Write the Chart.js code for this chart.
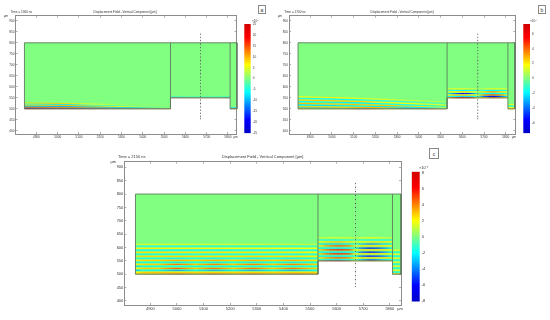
<!DOCTYPE html>
<html><head><meta charset="utf-8">
<script src="https://cdn.jsdelivr.net/npm/chart.js@4"></script>
<style>
html,body{margin:0;padding:0;background:#fff;width:550px;height:320px;overflow:hidden}
#wrap{position:relative;width:550px;height:320px;filter:blur(.4px)}
canvas{position:absolute;display:block}
.tag{position:absolute;box-sizing:border-box;border:1px solid #888;font:5px "Liberation Sans",sans-serif;color:#333;display:flex;align-items:center;justify-content:center;background:#fff}
</style></head><body><div id="wrap"></div>
<script>
// ----- Text -----
const chartTitle = "Displacement Field - Vertical Component [µm]";
const panelLetters = ["a", "b", "c"];
const timeLabels = ["Time = 1360 ns", "Time = 1700 ns", "Time = 2150 ns"];
const exponentLabels = ["×10⁻⁷", "×10⁻⁷", "×10⁻⁴"];

// ----- Axis ticks -----
const xTicks = [4900, 5000, 5100, 5200, 5300, 5400, 5500, 5600, 5700, 5800];
const yTicks = [400, 450, 500, 550, 600, 650, 700, 750, 800, 850, 900];
const aBarTicks = [-25, -20, -15, -10, -5, 0, 5, 10, 15, 20, 25];
const bBarTicks = [-6, -4, -2, 0, 2, 4, 6];
const cBarTicks = [-8, -6, -4, -2, 0, 2, 4, 6, 8];

// ----- Device geometry (µm) -----
const domainX = [4844, 4844, 5842, 5842, 5810, 5810, 5530, 5530, 4844];
const domainY = [500, 800, 800, 500, 500, 550, 550, 500, 500];
const wall1X = [5530, 5530];
const wall1Y = [550, 800];
const wall2X = [5810, 5810];
const wall2Y = [550, 800];
const probeX = 5671;
const probeY = [840, 825, 810, 795, 780, 765, 750, 735, 720, 705, 690, 675, 660, 645, 630, 615, 600, 585, 570, 555, 540, 525, 510, 495, 480, 465, 455];

// ----- Panel a, field bands -----
const aBlock1X = [4844, 5000, 5150, 5300, 5530];
const aBlock1Y = [
  [527, 525, 522, 519, 515],
  [523, 521, 518, 515, 511],
  [518, 516, 514, 511, 507],
  [513, 511, 509, 507, 505],
  [508, 507, 506, 505, 504],
  [504, 504, 503.5, 503, 503],
  [501, 501, 501, 501, 501]
];
const aBlock1V = [
  [8, 9, 6, 2, 0.5],
  [-6, -8, -6, -3, -1],
  [9, 10, 9, 6, 2],
  [-11, -11, -10, -9, -5],
  [14, 12, 11, 10, 10],
  [-20, -17, -14, -12, -12],
  [18, 16, 14, 10, 12]
];
const aBlock2X = [5530, 5600, 5670, 5740, 5810];
const aBlock2Y = [[554, 554, 554, 554, 554], [551, 551, 551, 551, 551]];
const aBlock2V = [[-6, -5, -5, -5, -6], [15, 14, 13, 12, 13]];
const aBlock3X = [5810, 5842];
const aBlock3Y = [[505, 505], [501, 501]];
const aBlock3V = [[-8, -8], [14, 14]];

// ----- Panel b, field bands -----
const bBlock1X = [4844, 4950, 5050, 5150, 5250, 5350, 5450, 5530];
const bBlock1Y = [
  [555, 553, 550, 547, 543, 539, 535, 531],
  [548, 546, 543, 540, 536, 532, 528, 524],
  [540, 538, 536, 533, 529, 525, 521, 517],
  [533, 531, 529, 526, 522, 518, 514, 511],
  [525, 523, 521, 519, 516, 513, 510, 508],
  [518, 516, 514, 512, 510, 508, 506, 505],
  [510, 509, 508, 507, 506, 505, 504, 504],
  [505, 505, 504, 504, 504, 503, 503, 502],
  [501, 501, 501, 501, 501, 501, 501, 501]
];
const bBlock1V = [
  [1.8, 2, 2, 1.5, 1.2, 1, 0.8, 0.5],
  [-1.5, -1.7, -1.8, -1.5, -1.2, -1, -0.8, -0.6],
  [2.5, 2.6, 2.6, 2.4, 2, 1.8, 1.4, 1],
  [-2, -2, -2.1, -2, -1.8, -1.6, -1.4, -1],
  [2.8, 2.8, 2.7, 2.7, 2.6, 2.4, 2.1, 1.6],
  [-2.2, -2.3, -2.2, -2, -2.3, -2.4, -2, -1.8],
  [2.6, 2.4, 2.6, 3, 2.8, 2.2, 2.8, 2.4],
  [-2.6, -3.4, -2.6, -2, -3, -4, -2.6, -2],
  [2.5, 0.5, 2.5, 4.5, 2, 0.5, 4, 3]
];
const bBlock2X = [5530, 5570, 5610, 5650, 5671, 5700, 5740, 5780, 5810];
const bBlock2Y = [591, 584, 577, 570, 563, 556, 551];
const bBlock2V = [
  [1, 1.5, 1.5, 1, 0.5, 1, 1.5, 1.5, 1],
  [-1, -1.6, -2, -1.5, -0.6, -1.5, -2, -1.6, -1],
  [1.4, 2, 2.4, 1.6, 0.8, 2.4, 3.6, 2.4, 1.4],
  [-1.4, -4, -5.5, -3.6, -0.8, -1.6, -2, -1.6, -1.4],
  [1.8, 3, 3, 2.4, 1, 4, 5.5, 4, 1.8],
  [-1.5, -2, -2.5, -2, -1, -4, -6, -4, -1.5],
  [2.5, 5, 6, 4.6, 1.5, 2.5, 4, 3, 2]
];
const bBlock3X = [5810, 5842];
const bBlock3Y = [520, 512, 505, 501];
const bBlock3V = [[1.4, 1.4], [-1.4, -1.4], [1.8, 1.8], [2.4, 2.4]];

// ----- Panel c, field bands -----
const cBlock1X = [4844, 4870, 4930, 5000, 5070, 5140, 5210, 5285, 5360, 5435, 5530];
const cBlock1Y = [612, 605, 597, 590, 582, 575, 567, 560, 552, 545, 537, 530, 522, 515, 507, 502];
const cBlock1V = [
  [1.4, 1.5, 1.5, 1.5, 1.4, 1.4, 1.4, 1.3, 1.2, 1.2, 1],
  [-1.3, -1.5, -1.5, -1.5, -1.4, -1.4, -1.3, -1.3, -1.2, -1.2, -1],
  [2.2, 2.3, 2.3, 2.2, 2.2, 2.2, 2.1, 2, 2, 2, 1.8],
  [-1.8, -2, -2, -2, -1.9, -1.9, -1.9, -1.8, -1.8, -1.8, -1.5],
  [2.5, 2.6, 2.6, 2.5, 2.5, 2.5, 2.4, 2.5, 2.4, 2.4, 2],
  [-2, -2.2, -2.1, -2.1, -2, -2.1, -2, -2, -2, -2.1, -1.8],
  [2.6, 2.7, 2.7, 2.7, 2.7, 2.6, 2.6, 2.7, 2.6, 2.6, 2.2],
  [-2, -2.2, -2.2, -2.4, -2.1, -2.4, -2.1, -2.4, -2.1, -2.4, -1.9],
  [2.4, 2.7, 2.8, 3.4, 2.8, 3.4, 2.8, 3.4, 2.8, 3.4, 2.4],
  [-2.4, -2.2, -2.2, -2.6, -2.2, -2.6, -2.2, -2.6, -2.2, -2.6, -2],
  [2.2, 2.7, 2.8, 4.4, 2.9, 4.2, 2.9, 4.2, 2.9, 4.2, 2.6],
  [-3, -2.3, -2.3, -2.2, -2.3, -2.4, -2.3, -2.4, -2.3, -2.4, -2],
  [2, 2.8, 2.9, 4.6, 2.9, 4.4, 2.9, 4.4, 2.9, 4.4, 2.6],
  [-3.4, -2.3, -2.4, -4, -2.3, -3.8, -2.4, -3.8, -2.4, -3.8, -2],
  [2, 2.8, 3, 2.8, 2.8, 2.8, 2.8, 2.8, 2.8, 2.8, 2.8],
  [3, 3, 3.2, 4, 3.2, 4, 3.2, 4, 3.2, 4, 3.4]
];
const cBlock2X = [5530, 5570, 5610, 5650, 5671, 5690, 5730, 5770, 5810];
const cBlock2Y = [636, 628, 621, 613, 606, 598, 591, 583, 576, 568, 561, 554, 551];
const cBlock2V = [
  [1, 1.5, 1.5, 1.5, 1, 1.5, 2, 1.5, 1],
  [-1.5, -2, -2, -1.5, -1, -1.5, -2, -2, -1.5],
  [2, 2.6, 3, 2.4, 1.5, 2, 2.5, 2.5, 2],
  [-2, -3, -3, -2.5, -1.5, -3, -4.5, -3, -2],
  [2, 4, 5, 4, 1.5, 2.5, 2.5, 2.5, 2],
  [-2, -2.4, -2.6, -2.2, -1.5, -4.5, -6, -4.5, -2],
  [2.5, 5, 6, 5, 2, 2.5, 2.5, 2.5, 2],
  [-2, -2.4, -2.6, -2.2, -1.5, -4.5, -6.2, -4.5, -2],
  [2.5, 5, 6, 5, 2, 2.5, 2.5, 2.5, 2],
  [-2, -2.4, -2.6, -2.2, -1.5, -4.5, -6, -4.5, -2],
  [2.5, 4, 5, 4, 2, 2.6, 2.6, 2.6, 2.5],
  [-1.5, -2.4, -2.6, -2, -1, -3, -5, -3, -2],
  [4, 5, 6, 4, 2, 3, 3.4, 3, 2.5]
];
const cBlock3X = [5810, 5842];
const cBlock3Y = [590, 583, 575, 568, 560, 553, 545, 538, 530, 523, 515, 508, 502];
const cBlock3V = [
  [1.6, 1.6], [-1.6, -1.6], [2, 2], [-1.8, -1.8], [2.2, 2.2], [-1.8, -1.8], [2.2, 2.2],
  [-1.8, -1.8], [2.2, 2.2], [-1.8, -1.8], [2.2, 2.2], [-1.8, -1.8], [3, 3]
];

// ----- Colour scale -----
const fieldStops = [[0, [0, 0, 200]], [0.125, [0, 0, 255]], [0.375, [0, 255, 255]], [0.625, [255, 255, 0]], [0.875, [255, 0, 0]], [1, [208, 0, 0]]];
function fieldColor(v, range) {
  const t = Math.max(0, Math.min(1, (v + range) / (2 * range)));
  for (let i = 1; i < fieldStops.length; i++) {
    const [t1, c1] = fieldStops[i], [t0, c0] = fieldStops[i - 1];
    if (t <= t1) {
      const k = (t - t0) / (t1 - t0);
      return `rgb(${c0.map((c, j) => Math.round(c + (c1[j] - c) * k)).join(",")})`;
    }
  }
  return "rgb(208,0,0)";
}

const panels = [
  { range: 25.1, barTicks: aBarTicks, canvas: [0, 0, 241, 148], area: [15.5, 236.5, 15.7, 134], xLim: [4802, 5840], yLim: [386, 923], font: 3.1, stripeW: 0.9,
    bands: [[aBlock1X, aBlock1Y, aBlock1V], [aBlock2X, aBlock2Y, aBlock2V], [aBlock3X, aBlock3Y, aBlock3V]],
    time: [10.7, 12], titleX: 125, yUnit: [6, 16], xUnit: [235.7, 137.3], bar: [244.3, 250.7, 24, 133.3], exp: [252, 21.5], tag: [258, 5, 8, 9], tagI: 0 },
  { range: 7.31, barTicks: bBarTicks, canvas: [275, 0, 245, 148], area: [14, 240.3, 15.7, 134], xLim: [4802.3, 5844], yLim: [386, 923], font: 3.1, stripeW: 1.1,
    bands: [[bBlock1X, bBlock1Y, bBlock1V], [bBlock2X, bBlock2Y, bBlock2V], [bBlock3X, bBlock3Y, bBlock3V]],
    time: [9.3, 12], titleX: 127, yUnit: [5, 16], xUnit: [239, 137.3], bar: [523.3, 530, 24, 133.3], exp: [530, 21.5], tag: [538, 5, 8, 9], tagI: 1 },
  { range: 8.14, barTicks: cBarTicks, canvas: [110, 145, 295, 175], area: [14.3, 291.7, 16.7, 160], xLim: [4802, 5842], yLim: [385, 921], font: 4, stripeW: 1.15,
    bands: [[cBlock1X, cBlock1Y, cBlock1V], [cBlock2X, cBlock2Y, cBlock2V], [cBlock3X, cBlock3Y, cBlock3V]],
    time: [8, 11.7], titleX: 152.7, yUnit: [3.3, 16.7], xUnit: [290, 164], bar: [411.7, 419.7, 171.7, 303], exp: [419, 168], tag: [429, 148, 10, 11], tagI: 2 }
];

const wrap = document.getElementById("wrap");
function addCanvas(x, y, w, h) {
  const c = document.createElement("canvas");
  c.width = w; c.height = h;
  c.style.cssText = `left:${x}px;top:${y}px;width:${w}px;height:${h}px`;
  wrap.appendChild(c);
  return c;
}
const GRAY = "#8c8c8c", FONT = "Liberation Sans", WALL = "#5f7a5f";

function bandDatasets(p) {
  const out = [];
  p.bands.forEach(([xs, ys, vs]) => {
    ys.forEach((row, r) => {
      const vals = vs[r];
      const data = xs.map((x, i) => ({ x, y: Array.isArray(row) ? row[i] : row }));
      out.push({
        data, showLine: true, pointRadius: 0, borderWidth: p.stripeW, order: 2, borderCapStyle: "butt", tension: 0,
        borderColor: fieldColor(vals[0], p.range),
        segment: {
          borderColor: c => {
            const i0 = c.p0DataIndex, i1 = c.p1DataIndex;
            const sx = c.chart && c.chart.scales && c.chart.scales.x;
            const x0 = sx ? sx.getPixelForValue(xs[i0]) : NaN, x1 = sx ? sx.getPixelForValue(xs[i1]) : NaN;
            if (!isFinite(x0) || !isFinite(x1) || x0 === x1) return fieldColor((vals[i0] + vals[i1]) / 2, p.range);
            const g = c.chart.ctx.createLinearGradient(x0, 0, x1, 0);
            g.addColorStop(0, fieldColor(vals[i0], p.range));
            g.addColorStop(1, fieldColor(vals[i1], p.range));
            return g;
          }
        }
      });
    });
  });
  return out;
}

function pts(xs, ys) { return xs.map((x, i) => ({ x, y: ys[i] })); }

panels.forEach((p, idx) => {
  const [cx, cy, cw, ch] = p.canvas, [L, R, T, B] = p.area;
  const domain = { data: pts(domainX, domainY), showLine: true, pointRadius: 0, borderWidth: 0, backgroundColor: "#80ff80", fill: "shape", order: 3, clip: false };
  const outline = { data: pts(domainX, domainY), showLine: true, pointRadius: 0, borderWidth: 0.9, borderColor: WALL, order: 1, clip: false };
  const w1 = { data: pts(wall1X, wall1Y), showLine: true, pointRadius: 0, borderWidth: 0.9, borderColor: WALL, order: 1 };
  const w2 = { data: pts(wall2X, wall2Y), showLine: true, pointRadius: 0, borderWidth: 0.9, borderColor: WALL, order: 1 };
  const probe = { data: probeY.map(y => ({ x: probeX, y })), showLine: true, borderWidth: 0.4, borderColor: "#888", borderDash: [1.2, 1.5], pointRadius: 0.55, pointBackgroundColor: "#555", pointBorderWidth: 0, order: 0 };
  const panelText = {
    id: "panelText",
    afterDraw(chart) {
      const c = chart.ctx;
      c.save();
      c.fillStyle = "#333";
      c.font = `${p.font}px "${FONT}"`;
      c.textBaseline = "middle";
      c.textAlign = "left";
      c.fillText(timeLabels[idx], p.time[0], p.time[1]);
      c.textAlign = "center";
      c.fillText(chartTitle, p.titleX, p.time[1]);
      c.fillText("µm", p.yUnit[0], p.yUnit[1]);
      c.fillText("µm", p.xUnit[0], p.xUnit[1]);
      c.restore();
    }
  };
  const plain = v => String(v);
  const tickOpts = { color: "#333", font: { family: FONT, size: p.font }, autoSkip: false, maxRotation: 0, minRotation: 0, callback: plain };
  const gridOpts = { drawOnChartArea: false, drawTicks: true, tickLength: -2, tickColor: GRAY, tickWidth: 0.7, color: GRAY };
  const borderOpts = { display: true, color: GRAY, width: 1 };
  const fixedTicks = list => (s => { s.ticks = list.map(v => ({ value: v })); });
  new Chart(addCanvas(cx, cy, cw, ch), {
    type: "scatter",
    data: { datasets: [probe, outline, w1, w2, ...bandDatasets(p), domain] },
    options: {
      responsive: false, animation: false, events: [],
      layout: { padding: 0 },
      plugins: { legend: { display: false }, tooltip: { enabled: false } },
      scales: {
        x: { type: "linear", position: "bottom", min: p.xLim[0], max: p.xLim[1], afterBuildTicks: fixedTicks(xTicks),
             ticks: { ...tickOpts, padding: 3.5 }, grid: gridOpts, border: borderOpts, afterFit: s => { s.height = ch - B; } },
        xTop: { type: "linear", position: "top", min: p.xLim[0], max: p.xLim[1], afterBuildTicks: fixedTicks(xTicks),
             ticks: { display: false }, grid: gridOpts, border: borderOpts, afterFit: s => { s.height = T; } },
        y: { type: "linear", position: "left", min: p.yLim[0], max: p.yLim[1], afterBuildTicks: fixedTicks(yTicks),
             ticks: { ...tickOpts, padding: 3 }, grid: gridOpts, border: borderOpts, afterFit: s => { s.width = L; } },
        yRight: { type: "linear", position: "right", min: p.yLim[0], max: p.yLim[1], afterBuildTicks: fixedTicks(yTicks),
             ticks: { display: false }, grid: gridOpts, border: borderOpts, afterFit: s => { s.width = cw - R; } }
      }
    },
    plugins: [panelText]
  });

  // Colour bar
  const [bL, bR, bT, bB] = p.bar;
  const padT = 8, padB = 3, barW = bR - bL, outW = 18;
  const cbx = Math.floor(bL), cby = Math.floor(bT) - padT;
  const cbw = Math.ceil(barW) + outW, cbh = Math.ceil(bB - bT) + padT + padB;
  const expPlugin = {
    id: "expLabel",
    afterDraw(chart) {
      const c = chart.ctx;
      c.save(); c.fillStyle = "#333"; c.font = `${p.font}px "${FONT}"`;
      c.textBaseline = "middle"; c.textAlign = "left";
      c.fillText(exponentLabels[idx], p.exp[0] - cbx, p.exp[1] - cby);
      c.restore();
    }
  };
  new Chart(addCanvas(cbx, cby, cbw, cbh), {
    type: "bar",
    data: {
      labels: [""],
      datasets: [{
        data: [[-p.range, p.range]], borderWidth: 0, categoryPercentage: 1, barPercentage: 1,
        backgroundColor: ctx => {
          const a = ctx.chart.chartArea;
          if (!a) return "#80ff80";
          const g = ctx.chart.ctx.createLinearGradient(0, a.bottom, 0, a.top);
          fieldStops.forEach(([t, c]) => g.addColorStop(t, `rgb(${c.join(",")})`));
          return g;
        }
      }]
    },
    options: {
      responsive: false, animation: false, events: [],
      layout: { padding: { left: bL - cbx, top: bT - cby, bottom: cbh - (bB - cby), right: 0 } },
      plugins: { legend: { display: false }, tooltip: { enabled: false } },
      scales: {
        x: { display: false },
        y: { position: "right", min: -p.range, max: p.range, afterBuildTicks: fixedTicks(p.barTicks),
             ticks: { ...tickOpts, padding: 2 }, grid: { drawOnChartArea: false, drawTicks: false }, border: { display: false },
             afterFit: s => { s.width = cbw - (bR - cbx); } }
      }
    },
    plugins: [expPlugin]
  });

  // Panel letter
  const t = document.createElement("div");
  t.className = "tag";
  t.textContent = panelLetters[p.tagI];
  t.style.cssText = `left:${p.tag[0]}px;top:${p.tag[1]}px;width:${p.tag[2]}px;height:${p.tag[3]}px`;
  wrap.appendChild(t);
});
</script></body></html>
